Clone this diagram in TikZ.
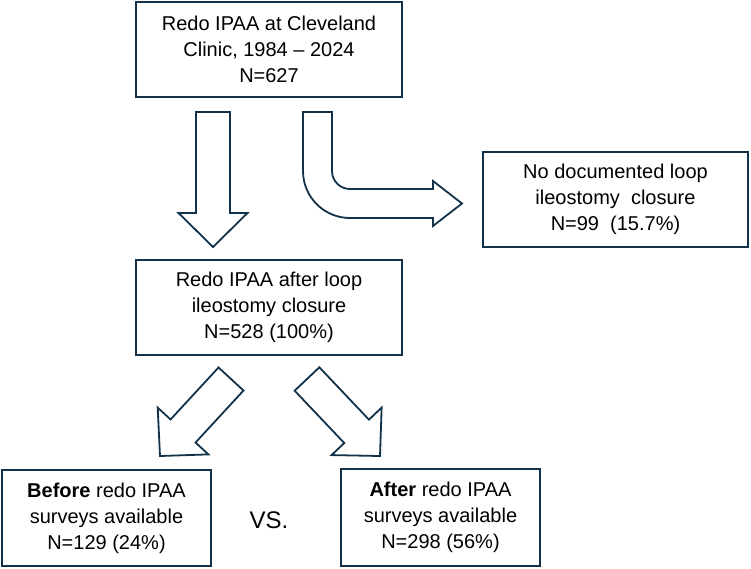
\documentclass[tikz,border=0pt]{standalone}
\usepackage{fontspec}
\setmainfont{Liberation Sans}
\usetikzlibrary{positioning,calc}
\definecolor{framecol}{HTML}{12324A}

\begin{document}
\begin{tikzpicture}[%
			x=1pt, y=-1pt,
			align = center,
			font=\fontsize{20}{26}\selectfont,
			box/.style={%
				minimum width=266pt,
				minimum height=95pt,
				inner sep=0pt,
				line width=2pt,
				draw=framecol
			},
			fat/.style={%
				draw=framecol,
				line width=1.8pt,
				line join=miter
			},
			fatarrow/.style={%
				fat,
				to path={($(\tikztostart)!17pt!90:(\tikztotarget)$)
					-- ($($(\tikztotarget)!34pt!(\tikztostart)$)!17pt!90:(\tikztotarget)$)
					-- ($($(\tikztotarget)!34pt!(\tikztostart)$)!34.5pt!90:(\tikztotarget)$)
					-- (\tikztotarget)
					-- ($($(\tikztotarget)!34pt!(\tikztostart)$)!34.5pt!-90:(\tikztotarget)$)
					-- ($($(\tikztotarget)!34pt!(\tikztostart)$)!17pt!-90:(\tikztotarget)$)
					-- ($(\tikztostart)!17pt!-90:(\tikztotarget)$)
					-- cycle}
			}
			]
			\useasboundingbox (0,0) rectangle (751,568);

			\node[box] (top) at (269,49) {Redo IPAA at Cleveland\\
				Clinic, 1984 – 2024\\
				N=627};
			\node[box] (mid) at (269,307.5) {Redo IPAA after loop\\
				ileostomy closure\\
				N=528 (100\%)};
			\node[box, minimum width=265pt] (nodoc) at (615.5,199.5) {No documented loop\\
				ileostomy\ \ closure\\
				N=99\ \ (15.7\%)};
			\node[box, minimum width=209pt, minimum height=96pt] (before) at (106.5,518) {\textbf{Before} redo IPAA\\
				surveys available\\
				N=129 (24\%)};
			\node[box, minimum width=199pt, minimum height=97pt] (after) at (440.5,517.5) {\textbf{After} redo IPAA\\
				surveys available\\
				N=298 (56\%)};
			\node (vs) at (269,520) {\fontsize{24}{28}\selectfont VS.};

			\coordinate (dn1) at (213,112);
			\coordinate (dn2) at (213,247);
			\coordinate (lf1) at (231,379);
			\coordinate (lf2) at (160,456);
			\coordinate (rt1) at (307,379);
			\coordinate (rt2) at (380,456);
			\coordinate (bendtip) at (462,203.5);

			\draw[fatarrow] (dn1) to (dn2);
			\draw[fatarrow] (lf1) to (lf2);
			\draw[fatarrow] (rt1) to (rt2);
			% bent arrow towards the excluded patients
			\draw[fat] (303,112) -- (303,171) .. controls (303,197) and (324,218) .. (350,218)
				-- (433,218) -- (433,226) -- (bendtip) -- (433,181) -- (433,189) -- (350,189)
				.. controls (340,189) and (332,181) .. (332,171) -- (332,112) -- cycle;
			\end{tikzpicture}
\end{document}
